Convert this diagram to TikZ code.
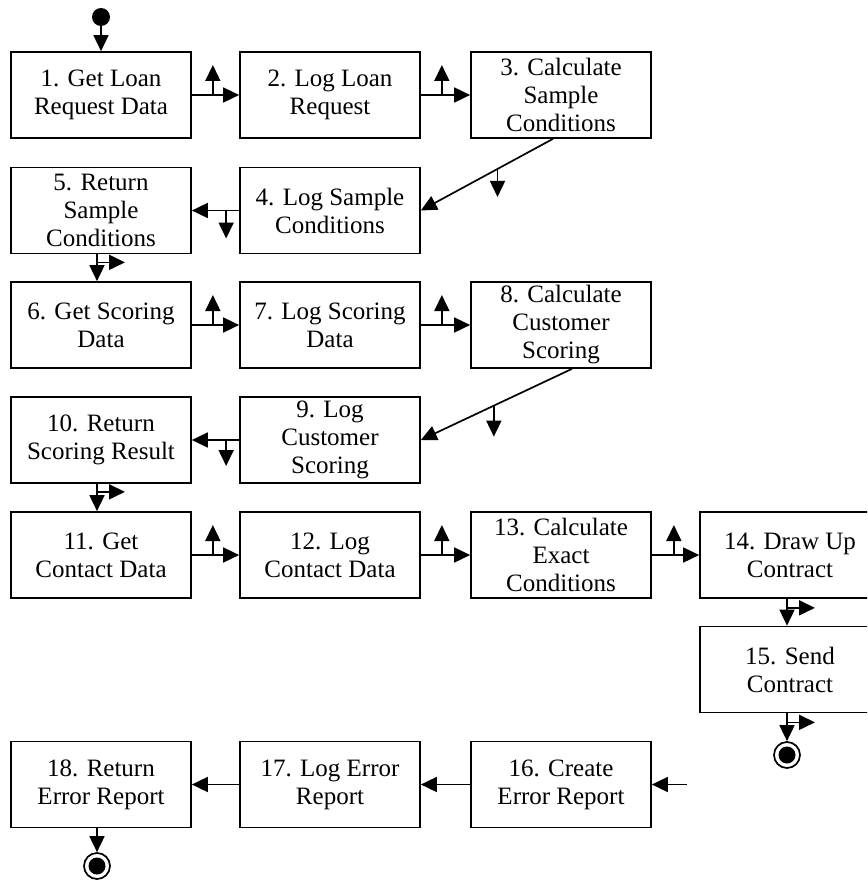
\documentclass[tikz,border=0pt]{standalone}
\usepackage{fontspec}
\setmainfont{Liberation Serif}
\usetikzlibrary{arrows.meta,calc}

\tikzset{
  actbox/.style={draw, line width=1.7pt, minimum width=180pt, minimum height=86pt,
    inner sep=0pt, align=center, font=\fontsize{25}{28}\selectfont},
  flow/.style={line width=1.7pt, -{Triangle[length=16pt,width=15pt]}},
  startdot/.style={circle, fill=black, minimum size=18pt, inner sep=0pt},
  enddot/.style={circle, draw, line width=1.7pt, fill=white, minimum size=26pt, inner sep=0pt,
    path picture={\fill[black] (path picture bounding box.center) circle (8.5pt);}},
}

\begin{document}
\begin{tikzpicture}[x=1pt, y=-1pt]
\useasboundingbox (0,0) rectangle (867,880);
\clip (0,0) rectangle (867,880);

% row 1
\node[startdot] (start) at (101,17) {};
\node[actbox] (b1) at (101,95) {1. Get Loan\\Request Data};
\node[actbox] (b2) at (330,95) {2. Log Loan\\Request};
\node[actbox] (b3) at (561,95) {3. Calculate\\Sample\\Conditions};
% row 2
\node[actbox] (b4) at (330,210.5) {4. Log Sample\\Conditions};
\node[actbox] (b5) at (101,210.5) {5. Return\\Sample\\Conditions};
% row 3
\node[actbox] (b6) at (101,325) {6. Get Scoring\\Data};
\node[actbox] (b7) at (330,325) {7. Log Scoring\\Data};
\node[actbox] (b8) at (561,325) {8. Calculate\\Customer\\Scoring};
% row 4
\node[actbox] (b9) at (330,440) {9. Log\\Customer\\Scoring};
\node[actbox] (b10) at (101,440) {10. Return\\Scoring Result};
% row 5
\node[actbox] (b11) at (101,555) {11. Get\\Contact Data};
\node[actbox] (b12) at (330,555) {12. Log\\Contact Data};
\node[actbox] (b13) at (561,555) {13. Calculate\\Exact\\Conditions};
\node[actbox] (b14) at (790,555) {14. Draw Up\\Contract};
\node[actbox] (b15) at (790,669.5) {15. Send\\Contract};
\node[enddot] (end1) at (787,755) {};
% row 6
\node[actbox] (b16) at (561,784.5) {16. Create\\Error Report};
\node[actbox] (b17) at (330,784.5) {17. Log Error\\Report};
\node[actbox] (b18) at (101,784.5) {18. Return\\Error Report};
\node[enddot] (end2) at (97,866) {};
\coordinate (errin) at (687,784.5);

% start
\draw[flow] (start) -- (b1.north);

% forward steps with an upward branch
\foreach \a/\b in {b1/b2, b2/b3, b6/b7, b7/b8, b11/b12, b12/b13} {
  \draw[flow] (\a.east) -- (\b.west);
  \draw[flow] ($(\a.east)+(21,0)$) -- ++(0,-30);
}
\draw[flow] (b13.east) -- (b14.west);
\draw[flow] ($(b13.east)+(22,0)$) -- ++(0,-30);

% diagonal returns with a downward branch
\draw[flow] ($(b3.south)+(-8,0)$) -- coordinate[pos=0.42] (m1) (b4.east);
\draw[flow] (m1) -- ++(0,28);
\draw[flow] ($(b8.south)+(11,0)$) -- coordinate[pos=0.517] (m2) (b9.east);
\draw[flow] (m2) -- ++(0,31);

% leftward steps with a downward branch
\draw[flow] (b4.west) -- (b5.east);
\draw[flow] ($(b4.west)+(-13,0)$) -- ++(0,28);
\draw[flow] (b9.west) -- (b10.east);
\draw[flow] ($(b9.west)+(-13,0)$) -- ++(0,26);

% downward steps with a side branch
\draw[flow] ($(b5.south)+(-4,0)$) -- ($(b6.north)+(-4,0)$);
\draw[flow] ($(b5.south)+(-4,8)$) -- ++(28,0);
\draw[flow] ($(b10.south)+(-4,0)$) -- ($(b11.north)+(-4,0)$);
\draw[flow] ($(b10.south)+(-4,8)$) -- ++(28,0);
\draw[flow] ($(b14.south)+(-3,0)$) -- ($(b15.north)+(-3,0)$);
\draw[flow] ($(b14.south)+(-3,9)$) -- ++(28,0);
\draw[flow] ($(b15.south)+(-3,0)$) -- (end1.north);
\draw[flow] ($(b15.south)+(-3,9)$) -- ++(28,0);

% error path
\draw[flow] (errin) -- (b16.east);
\draw[flow] (b16.west) -- (b17.east);
\draw[flow] (b17.west) -- (b18.east);
\draw[flow] ($(b18.south)+(-4,0)$) -- (end2.north);
\end{tikzpicture}
\end{document}
